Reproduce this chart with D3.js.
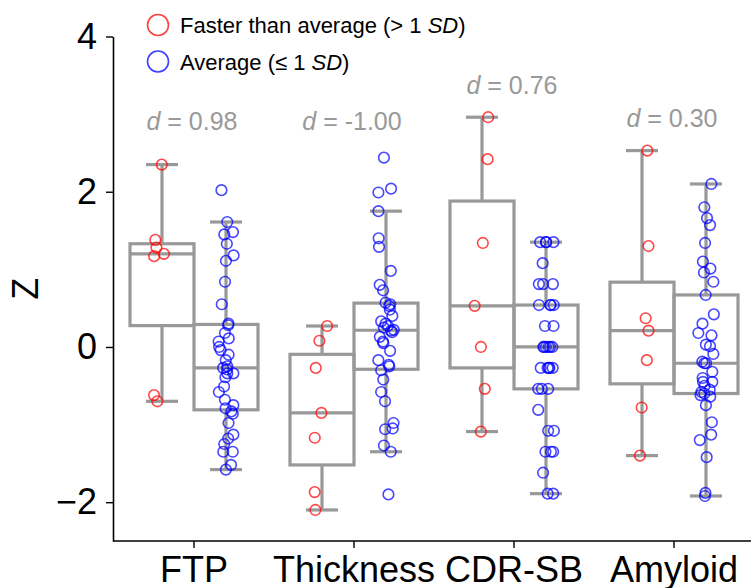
<!DOCTYPE html>
<html>
<head>
<meta charset="utf-8">
<script src="https://cdn.jsdelivr.net/npm/d3@7"></script>
<style>
  body { margin: 0; background: #fff; }
  text { font-family: "Liberation Sans", Arial, sans-serif; }
</style>
</head>
<body>
<script>
// categories and group keys
const categories = ["FTP", "Thickness", "CDR-SB", "Amyloid"];
const groups = ["faster", "average"];
const cohenD = [0.98, -1.00, 0.76, 0.30];

// Faster than average (> 1 SD), z-scores per measure
const fasterFTP = [2.35, 1.38, 1.28, 1.20, 1.17, -0.62, -0.70];
const fasterThickness = [0.27, 0.08, -0.27, -0.85, -1.17, -1.87, -2.10];
const fasterCDR = [2.96, 2.42, 1.34, 0.53, 0.00, -0.54, -1.09];
const fasterAmyloid = [2.53, 1.30, 0.37, 0.21, -0.17, -0.78, -1.40];

// Average (<= 1 SD)
const averageFTP = [-1.58, -1.52, -1.35, -1.35, -1.25, -1.18, -1.13, -0.98, -0.86, -0.83,
  -0.79, -0.75, -0.68, -0.58, -0.51, -0.39, -0.34, -0.34, -0.29, -0.27,
  -0.25, -0.17, -0.10, -0.04, 0.00, 0.07, 0.11, 0.18, 0.28, 0.30,
  0.55, 0.84, 1.11, 1.18, 1.33, 1.45, 1.48, 1.61, 2.02];
const averageThickness = [-1.90, -1.35, -1.27, -1.06, -1.05, -0.98, -0.70, -0.58, -0.42, -0.30,
  -0.25, -0.23, -0.17, -0.05, 0.05, 0.07, 0.13, 0.19, 0.21, 0.22,
  0.25, 0.27, 0.30, 0.33, 0.40, 0.48, 0.53, 0.55, 0.57, 0.73,
  0.80, 0.98, 1.29, 1.40, 1.75, 1.99, 2.04, 2.44];
const averageCDR = [-1.89, -1.89, -1.62, -1.35, -1.35, -1.35, -1.08, -1.08, -0.81,
  -0.54, -0.54, -0.54, -0.27, -0.27, -0.27, -0.27, -0.27,
  0.00, 0.00, 0.00, 0.00, 0.00, 0.00, 0.27, 0.27,
  0.54, 0.54, 0.54, 0.54, 0.81, 0.81, 0.81, 1.08, 1.35, 1.35, 1.35, 1.35];
const averageAmyloid = [-1.92, -1.88, -1.42, -1.20, -1.13, -0.97, -0.75, -0.64, -0.62, -0.60,
  -0.58, -0.55, -0.50, -0.45, -0.45, -0.40, -0.32, -0.21, -0.21, -0.19,
  -0.09, 0.01, 0.03, 0.15, 0.18, 0.30, 0.42, 0.67, 0.84, 0.96,
  1.01, 1.10, 1.34, 1.57, 1.66, 1.80, 2.10];

const yTicks = [-2, 0, 2, 4];

const series = {
  faster: [fasterFTP, fasterThickness, fasterCDR, fasterAmyloid],
  average: [averageFTP, averageThickness, averageCDR, averageAmyloid]
};
const colors = { faster: "#ff0000", average: "#0000ff" };

const width = 751, height = 588;

const svg = d3.select("body").append("svg")
  .attr("width", width)
  .attr("height", height);

const x = d3.scaleBand()
  .domain(categories)
  .range([114, 754])
  .padding(0);

const hue = d3.scaleBand()
  .domain(groups)
  .range([0, x.bandwidth()])
  .paddingInner(0)
  .paddingOuter(0.25);

const y = d3.scaleLinear()
  .domain([-2.5, 4])
  .range([541, 36.5]);

// axes
const yAxis = svg.append("g")
  .attr("transform", "translate(113,0)")
  .call(d3.axisLeft(y).tickValues(yTicks).tickFormat(d3.format("d"))
    .tickSize(7).tickSizeOuter(0).tickPadding(9));

const xAxis = svg.append("g")
  .attr("transform", "translate(0,541)")
  .call(d3.axisBottom(x).tickSize(7).tickSizeOuter(0).tickPadding(8));
xAxis.select(".domain").attr("d", "M113,0H754");

[yAxis, xAxis].forEach(g => {
  g.select(".domain").attr("stroke", "#000").attr("stroke-width", 1.6);
  g.selectAll(".tick line").attr("stroke", "#000").attr("stroke-width", 1.4);
  g.selectAll(".tick text")
    .attr("fill", "#000")
    .style("font-size", "36px")
    .style("font-family", "'Liberation Sans', Arial, sans-serif");
});

svg.append("text")
  .attr("transform", `translate(38,${(y.range()[0] + y.range()[1]) / 2}) rotate(-90)`)
  .attr("text-anchor", "middle")
  .style("font-size", "36px")
  .text("Z");

// box plots
function boxStats(values) {
  const s = values.slice().sort(d3.ascending);
  const q1 = d3.quantileSorted(s, 0.25);
  const med = d3.quantileSorted(s, 0.5);
  const q3 = d3.quantileSorted(s, 0.75);
  const iqr = q3 - q1;
  const lo = d3.min(s.filter(v => v >= q1 - 1.5 * iqr));
  const hi = d3.max(s.filter(v => v <= q3 + 1.5 * iqr));
  return { q1, med, q3, lo, hi };
}

const boxColor = "#999999";
const boxes = svg.append("g");
categories.forEach((cat, i) => {
  groups.forEach(g => {
    const st = boxStats(series[g][i]);
    const x0 = x(cat) + hue(g);
    const w = hue.bandwidth();
    const cx = x0 + w / 2;
    const b = boxes.append("g")
      .attr("stroke", boxColor)
      .attr("stroke-width", 3.2)
      .attr("fill", "none");
    b.append("line").attr("x1", cx).attr("x2", cx).attr("y1", y(st.q3)).attr("y2", y(st.hi));
    b.append("line").attr("x1", cx).attr("x2", cx).attr("y1", y(st.q1)).attr("y2", y(st.lo));
    b.append("line").attr("x1", cx - w / 4).attr("x2", cx + w / 4).attr("y1", y(st.hi)).attr("y2", y(st.hi));
    b.append("line").attr("x1", cx - w / 4).attr("x2", cx + w / 4).attr("y1", y(st.lo)).attr("y2", y(st.lo));
    b.append("rect")
      .attr("x", x0).attr("y", y(st.q3))
      .attr("width", w).attr("height", y(st.q1) - y(st.q3));
    b.append("line").attr("x1", x0).attr("x2", x0 + w).attr("y1", y(st.med)).attr("y2", y(st.med));
  });
});

// jittered points (seeded, like seaborn's stripplot jitter)
const jitter = d3.randomUniform.source(d3.randomLcg(0.37))(-0.05, 0.05);
const points = svg.append("g");
categories.forEach((cat, i) => {
  groups.forEach(g => {
    const cx = x(cat) + hue(g) + hue.bandwidth() / 2;
    points.selectAll(null)
      .data(series[g][i])
      .enter()
      .append("circle")
      .attr("cx", () => cx + jitter() * x.bandwidth())
      .attr("cy", d => y(d))
      .attr("r", 5.3)
      .attr("fill", "none")
      .attr("stroke", colors[g])
      .attr("stroke-opacity", 0.72)
      .attr("stroke-width", 1.6);
  });
});

// effect sizes
categories.forEach((cat, i) => {
  const top = d3.max([...series.faster[i], ...series.average[i]]);
  const t = svg.append("text")
    .attr("x", x(cat) + x.bandwidth() / 2 - 2)
    .attr("y", y(Math.max(2.8, top + 0.3)))
    .attr("text-anchor", "middle")
    .attr("fill", "#999999")
    .style("font-size", "25px");
  t.append("tspan").style("font-style", "italic").text("d");
  t.append("tspan").text(" = " + cohenD[i].toFixed(2));
});

// legend
const legend = svg.append("g");
const legendItems = [
  { key: "faster", label: "Faster than average (> 1 ", tail: ")" },
  { key: "average", label: "Average (\u2264 1 ", tail: ")" }
];
legendItems.forEach((item, i) => {
  const ly = 25 + i * 36.5;
  legend.append("circle")
    .attr("cx", 158).attr("cy", ly).attr("r", 10.5)
    .attr("fill", "none")
    .attr("stroke", colors[item.key])
    .attr("stroke-opacity", 0.75)
    .attr("stroke-width", 1.6);
  const t = legend.append("text")
    .attr("x", 180).attr("y", ly + 8)
    .attr("fill", "#000")
    .style("font-size", "22px");
  t.append("tspan").text(item.label);
  t.append("tspan").style("font-style", "italic").text("SD");
  t.append("tspan").text(item.tail);
});
</script>
</body>
</html>
